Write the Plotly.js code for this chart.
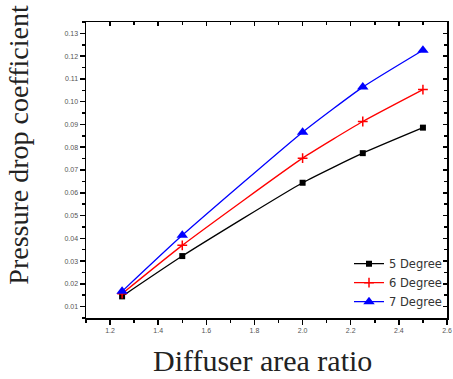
<!DOCTYPE html>
<html><head><meta charset="utf-8">
<script src="https://cdn.plot.ly/plotly-3.0.1.min.js"></script>
<style>body{margin:0;background:#fff}#c{width:453px;height:379px}</style>
</head><body><div id="c"></div>
<script>
const areaRatio = [1.25, 1.5, 2.0, 2.25, 2.5];
const deg5 = [0.0145, 0.0322, 0.0644, 0.0774, 0.0886];
const deg6 = [0.0157, 0.0369, 0.0752, 0.0913, 0.1053];
const deg7 = [0.0167, 0.0413, 0.0866, 0.1064, 0.1226];
const seriesNames = ["5 Degree", "6 Degree", "7 Degree"];
const xTicks = [1.2, 1.4, 1.6, 1.8, 2.0, 2.2, 2.4, 2.6];

const mk = (y, name, color, symbol, size, lw) => ({
  x: areaRatio, y: y, name: name, type: 'scatter', mode: 'lines+markers',
  line: {color: color, width: 1.3, shape: 'spline', smoothing: 0.5},
  marker: {color: color, symbol: symbol, size: size, line: {color: color, width: lw}}
});
const data = [
  mk(deg5, seriesNames[0], '#000000', 'square', 6, 0),
  mk(deg6, seriesNames[1], '#ff0000', 'cross-thin', 7, 1.5),
  mk(deg7, seriesNames[2], '#0000ff', 'triangle-up', 10, 0),
  // invisible helper so the mirrored (top/right) tick axes get drawn
  {x: areaRatio, y: deg5, xaxis: 'x2', yaxis: 'y2', type: 'scatter', mode: 'markers',
   marker: {opacity: 0}, showlegend: false, hoverinfo: 'skip'}
];
const tickFont = {family: 'Liberation Sans, Arial', size: 7, color: '#555'};
const xRange = [1.1, 2.6], yRange = [0.005, 0.135];
const layout = {
  width: 453, height: 379,
  margin: {l: 86, r: 6, t: 22, b: 61},
  paper_bgcolor: '#fff', plot_bgcolor: '#fff',
  showlegend: true,
  legend: {x: 1.0, y: 0.006, xanchor: 'right', yanchor: 'bottom',
    font: {family: 'DejaVu Sans', size: 11.5, color: '#333'},
    bgcolor: 'rgba(0,0,0,0)', tracegroupgap: 0, itemwidth: 30},
  xaxis: {
    range: xRange, tickvals: xTicks, tickformat: '.1f',
    showline: true, linecolor: '#000', linewidth: 1.5, mirror: true,
    ticks: 'outside', ticklen: 5, tickwidth: 1.5, tickcolor: '#000',
    showgrid: false, zeroline: false, tickfont: tickFont,
    minor: {dtick: 0.1, tick0: 1.1, ticks: 'outside', ticklen: 3, tickcolor: '#000', tickwidth: 1.5, showgrid: false}
  },
  yaxis: {
    range: yRange, dtick: 0.01, tick0: 0.01, tickformat: '.2f',
    showline: true, linecolor: '#000', linewidth: 1.5, mirror: true,
    ticks: 'outside', ticklen: 5, tickwidth: 1.5, tickcolor: '#000',
    showgrid: false, zeroline: false, tickfont: tickFont,
    minor: {dtick: 0.005, tick0: 0.005, ticks: 'outside', ticklen: 3, tickcolor: '#000', tickwidth: 1.5, showgrid: false}
  },
  xaxis2: {
    overlaying: 'x', anchor: 'y2', side: 'top', range: xRange, tickvals: xTicks,
    showticklabels: false, showline: false, showgrid: false, zeroline: false,
    ticks: 'inside', ticklen: 4, tickwidth: 1.5, tickcolor: '#000',
    minor: {dtick: 0.1, tick0: 1.1, ticks: 'inside', ticklen: 3, tickcolor: '#000', tickwidth: 1.5, showgrid: false}
  },
  yaxis2: {
    overlaying: 'y', anchor: 'x2', side: 'right', range: yRange, dtick: 0.01, tick0: 0.01,
    showticklabels: false, showline: false, showgrid: false, zeroline: false,
    ticks: 'inside', ticklen: 4, tickwidth: 1.5, tickcolor: '#000',
    minor: {dtick: 0.005, tick0: 0.005, ticks: 'inside', ticklen: 3, tickcolor: '#000', tickwidth: 1.5, showgrid: false}
  },
  annotations: [
    {text: 'Diffuser area ratio', xref: 'paper', yref: 'paper', x: 0.49, y: -0.142,
     xanchor: 'center', yanchor: 'middle', showarrow: false,
     font: {family: 'Liberation Serif, Times New Roman', size: 30, color: '#222'}},
    {text: 'Pressure drop coefficient', xref: 'paper', yref: 'paper', x: -0.186, y: 0.585,
     xanchor: 'center', yanchor: 'middle', textangle: -90, showarrow: false,
     font: {family: 'Liberation Serif, Times New Roman', size: 28, color: '#222'}}
  ]
};
Plotly.newPlot('c', data, layout, {displayModeBar: false, staticPlot: true});
</script></body></html>
